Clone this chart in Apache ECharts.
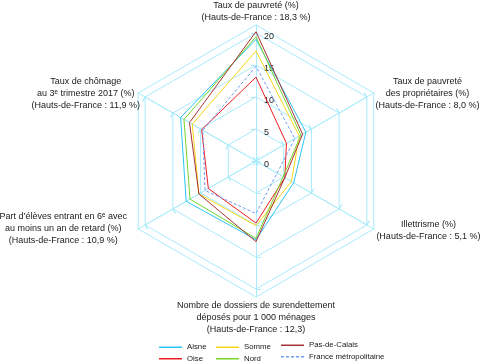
<!DOCTYPE html>
<html><head><meta charset="utf-8">
<script src="https://cdn.jsdelivr.net/npm/echarts@6/dist/echarts.min.js"></script>
<style>html,body{margin:0;padding:0;background:#fff}#c{width:480px;height:362px}</style>
</head><body><div id="c"></div>
<script>
// Indicators in ECharts (counter-clockwise from top) order
const indicatorNames = [
  'Taux de pauvreté (%)\n(Hauts-de-France : 18,3 %)',
  'Taux de chômage\nau 3ᵉ trimestre 2017 (%)\n(Hauts-de-France : 11,9 %)',
  'Part d’élèves entrant en 6ᵉ avec\nau moins un an de retard (%)\n(Hauts-de-France : 10,9 %)',
  'Nombre de dossiers de surendettement\ndéposés pour 1 000 ménages\n(Hauts-de-France : 12,3)',
  'Illettrisme (%)\n(Hauts-de-France : 5,1 %)',
  'Taux de pauvreté\ndes propriétaires (%)\n(Hauts-de-France : 8,0 %)'
];
const axisMin = 0;
const axisMax = 20;
const seriesNames = ['Aisne', 'Oise', 'Somme', 'Nord', 'Pas-de-Calais', 'France métropolitaine'];
const aisne   = [19.0, 13.6, 12.6, 12.3, 6.8, 9.0];
const oise    = [13.1,  9.8,  8.6,  9.7, 5.2, 5.5];
const somme   = [17.2, 11.5, 10.3, 10.1, 6.4, 7.8];
const nord    = [19.4, 13.0, 11.9, 12.1, 4.9, 8.1];
const pasDeCalais = [20.2, 12.0, 10.3, 12.6, 5.2, 8.4];
const france  = [14.8,  9.6,  9.2,  8.2, 3.8, 7.0];
const seriesValues = [aisne, oise, somme, nord, pasDeCalais, france];

// styles
const colors = ['#2cc6f4', '#ee1d23', '#f9d616', '#77d42a', '#a83236', '#6f9bf0'];
const dashed = [false, false, false, false, false, true];
const GRID = '#a9ebfb';
const FONT = "'Liberation Sans',Arial,sans-serif";
const TXT = '#1a1a1a';
const nameGaps = [1, -2, 13, 3, 3, 2];
const namePads = [0, 0, [0, 0, 13, 0], 0, 0, [3, 0, 0, 0]];
const CENTER = [256, 161];

const chart = echarts.init(document.getElementById('c'), null, {renderer: 'canvas'});

const radarA = {
  center: CENTER, radius: 128, startAngle: 90, splitNumber: 4, shape: 'polygon',
  indicator: indicatorNames.map((n, i) => ({name: n, min: axisMin, max: axisMax, axisLabel: {show: i === 0}})),
  axisName: {show: false},
  splitLine: {show: true, lineStyle: {color: GRID, width: 1}},
  splitArea: {show: false},
  axisLine: {show: true, lineStyle: {color: GRID, width: 1}},
  axisTick: {show: true, length: 5, lineStyle: {color: GRID, width: 1}},
  axisLabel: {show: true, color: TXT, fontSize: 9, fontFamily: FONT, margin: -8, align: 'left',
    verticalAlign: 'top', lineHeight: 8}
};
const radarB = {
  center: CENTER, radius: 136, startAngle: 90, splitNumber: 1, shape: 'polygon',
  indicator: indicatorNames.map((n, i) => ({name: n, min: axisMin, max: axisMax, nameGap: nameGaps[i],
    nameTextStyle: {padding: namePads[i]}})),
  axisName: {
    show: true, color: TXT, fontSize: 9, fontFamily: FONT,
    formatter: (name) => name.split('\n').map(l => '{c|' + l + '}').join('\n'),
    rich: {c: {align: 'center', fontSize: 9, lineHeight: 12, fontFamily: FONT, color: TXT}}
  },
  splitLine: {show: true, lineStyle: {color: GRID, width: 1}},
  splitArea: {show: false},
  axisLine: {show: true, lineStyle: {color: GRID, width: 1}},
  axisTick: {show: false},
  axisLabel: {show: false}
};
const radarC = {
  center: CENTER, radius: 128, startAngle: 90, splitNumber: 4, shape: 'polygon',
  indicator: indicatorNames.map((n) => ({name: n, min: axisMin, max: axisMax})),
  axisName: {show: false},
  splitLine: {show: false}, splitArea: {show: false},
  axisLine: {show: false},
  axisTick: {show: true, inside: true, length: 5, lineStyle: {color: GRID, width: 1}},
  axisLabel: {show: false}
};

const solidIcon = 'path://M0,0H23V1.5H0Z';
const dashIcon = 'path://M0,0H3V1.5H0Z M5,0H8V1.5H5Z M10,0H13V1.5H10Z M15,0H18V1.5H15Z M20,0H23V1.5H20Z';
function legend(names, left, top) {
  return {
    orient: 'vertical', left: left, top: top, height: 30, padding: 0, itemGap: 0,
    itemWidth: 23, itemHeight: 1.5, selectedMode: false,
    data: names.map(n => ({name: n, icon: dashed[seriesNames.indexOf(n)] ? dashIcon : solidIcon})),
    textStyle: {fontSize: 7.8, fontFamily: FONT, color: TXT, lineHeight: 11.5}
  };
}

chart.setOption({
  animation: false,
  radar: [radarA, radarB, radarC],
  legend: [
    legend([seriesNames[0], seriesNames[1]], 159, 341.5),
    legend([seriesNames[2], seriesNames[3]], 216, 341.5),
    legend([seriesNames[4], seriesNames[5]], 281, 339.5)
  ],
  series: [{
    type: 'radar', radarIndex: 0, symbol: 'none', silent: true,
    data: seriesNames.map((n, i) => ({
      name: n, value: seriesValues[i],
      lineStyle: {color: colors[i], width: 1, type: dashed[i] ? [3, 2] : 'solid'},
      itemStyle: {color: colors[i]}
    }))
  }]
});
</script></body></html>
